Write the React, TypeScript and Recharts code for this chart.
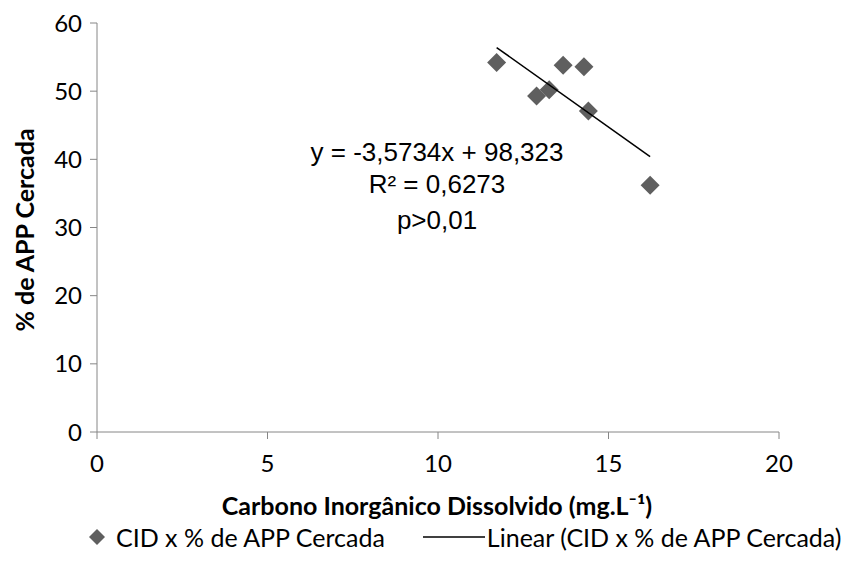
import { ScatterChart, Scatter, XAxis, YAxis, Legend, Customized } from 'recharts';

// CID (mg/L) vs % de APP cercada
const cid = [11.72, 12.89, 13.26, 13.67, 14.28, 14.41, 16.22];
const appCercada = [54.2, 49.3, 50.2, 53.8, 53.6, 47.1, 36.2];

// ends of the linear trend line as drawn
const trendX = [11.72, 16.22];
const trendY = [56.4, 40.4];

const xTicks = [0, 5, 10, 15, 20];
const yTicks = [0, 10, 20, 30, 40, 50, 60];

const equationLines = ['y = -3,5734x + 98,323', 'R² = 0,6273', 'p>0,01'];

const points = cid.map((x, i) => ({ x, y: appCercada[i] }));
const trend = trendX.map((x, i) => ({ x, y: trendY[i] }));

const AXIS = '#868686';
const MARKER = '#5f5f5f';
const CALIBRI = 'Lato, "Open Sans", sans-serif';
const ARIAL = '"Liberation Sans", Arial, sans-serif';

const Diamond = (props: any) => {
  const { cx, cy } = props;
  if (cx == null || cy == null) return null;
  const r = 9.5;
  return <path d={`M${cx},${cy - r}L${cx + r},${cy}L${cx},${cy + r}L${cx - r},${cy}Z`} fill={MARKER} />;
};

const Annotations = () => (
  <g>
    <text x={437} y={161} textAnchor="middle" fontFamily={ARIAL} fontSize={26} fill="#000">{equationLines[0]}</text>
    <text x={437} y={193} textAnchor="middle" fontFamily={ARIAL} fontSize={26} fill="#000">{equationLines[1]}</text>
    <text x={437} y={229} textAnchor="middle" fontFamily={ARIAL} fontSize={26} fill="#000">{equationLines[2]}</text>
    <text x={437} y={515} textAnchor="middle" fontFamily={CALIBRI} fontWeight="bold" fontSize={25} fill="#000">
      Carbono Inorgânico Dissolvido (mg.L⁻¹)
    </text>
    <text
      x={34}
      y={230}
      textAnchor="middle"
      transform="rotate(-90 34 230)"
      fontFamily={CALIBRI}
      fontWeight="bold"
      fontSize={25}
      fill="#000"
    >
      % de APP Cercada
    </text>
  </g>
);

const LegendContent = () => (
  <div style={{ display: 'flex', alignItems: 'center', fontFamily: CALIBRI, fontSize: 25, color: '#000', height: 30 }}>
    <svg width={20} height={20} style={{ marginLeft: 87 }}>
      <path d="M10,2L18,10L10,18L2,10Z" fill={MARKER} />
    </svg>
    <span style={{ marginLeft: 9 }}>CID x % de APP Cercada</span>
    <svg width={62} height={4} style={{ marginLeft: 38 }}>
      <line x1={0} y1={2} x2={62} y2={2} stroke="#000" strokeWidth={1.5} />
    </svg>
    <span style={{ marginLeft: 2 }}>Linear (CID x % de APP Cercada)</span>
  </div>
);

export default function App() {
  return (
    <div style={{ position: 'absolute', left: 0, top: 0, background: '#fff' }}>
      <ScatterChart width={842} height={578} margin={{ top: 23, right: 63, left: 40, bottom: 0 }}>
        <XAxis
          type="number"
          dataKey="x"
          domain={[0, 20]}
          ticks={xTicks}
          interval={0}
          height={146}
          stroke={AXIS}
          tickSize={7}
          tickMargin={16}
          tick={{ fill: '#000', fontSize: 24, fontFamily: CALIBRI }}
          allowDataOverflow
        />
        <YAxis
          type="number"
          dataKey="y"
          domain={[0, 60]}
          ticks={yTicks}
          interval={0}
          width={57}
          stroke={AXIS}
          tickSize={7}
          tickMargin={8}
          tick={{ fill: '#000', fontSize: 24, fontFamily: CALIBRI }}
          allowDataOverflow
        />
        <Scatter data={points} shape={<Diamond />} isAnimationActive={false} />
        <Scatter
          data={trend}
          line={{ stroke: '#000', strokeWidth: 1.5 }}
          shape={() => null}
          isAnimationActive={false}
        />
        <Legend
          layout="horizontal"
          verticalAlign="middle"
          align="center"
          wrapperStyle={{ position: 'absolute', top: 522, left: 0, width: 842 }}
          content={<LegendContent />}
        />
        <Customized component={Annotations} />
      </ScatterChart>
    </div>
  );
}
